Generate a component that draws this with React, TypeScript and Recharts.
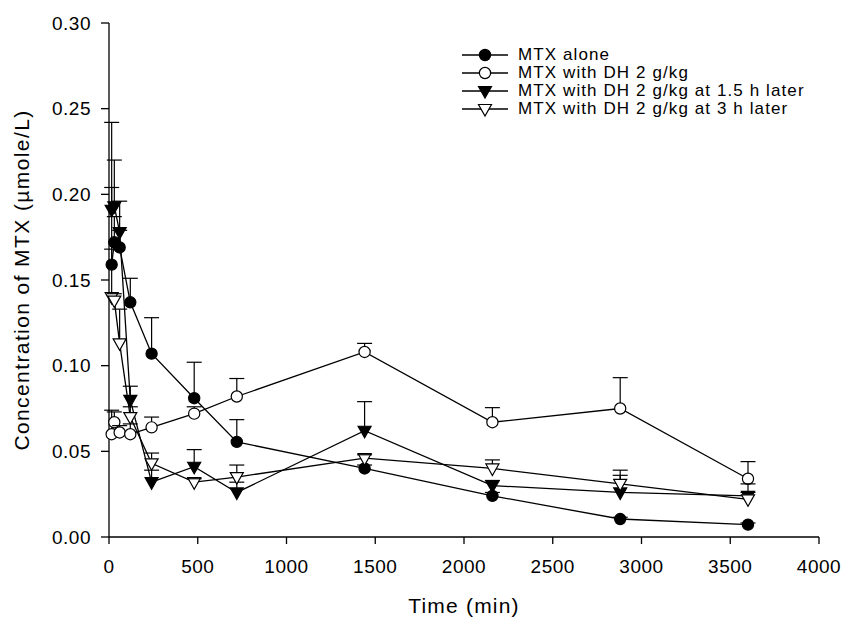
import { LineChart, Line, XAxis, YAxis, ErrorBar, Legend, Label } from 'recharts';

// sampling times (min)
const TIMES = [15, 30, 60, 120, 240, 480, 720, 1440, 2160, 2880, 3600];

// mean concentration (umole/L) and SD per group
const ALONE = [0.159, 0.172, 0.169, 0.137, 0.107, 0.081, 0.0555, 0.040, 0.024, 0.0105, 0.0072];
const ALONE_SD = [0.009, 0.015, 0.010, 0.014, 0.021, 0.021, 0.013, 0.002, 0.002, 0.001, 0.001];
const WITH_DH = [0.060, 0.067, 0.061, 0.060, 0.064, 0.072, 0.082, 0.108, 0.067, 0.075, 0.034];
const WITH_DH_SD = [0.014, 0.006, 0.004, 0.006, 0.006, 0.004, 0.0105, 0.005, 0.0085, 0.018, 0.010];
const DH_15H = [0.191, 0.193, 0.178, 0.080, 0.032, 0.041, 0.026, 0.062, 0.030, 0.026, 0.024];
const DH_15H_SD = [0.051, 0.027, 0.018, 0.008, 0.007, 0.010, 0.006, 0.017, 0.003, 0.010, 0.002];
const DH_3H = [0.140, 0.138, 0.113, 0.070, 0.043, 0.032, 0.035, 0.046, 0.040, 0.031, 0.022];
const DH_3H_SD = [0.064, 0.004, 0.020, 0.006, 0.006, 0.002, 0.007, 0.002, 0.005, 0.008, 0.009];

const X_TICKS = [0, 500, 1000, 1500, 2000, 2500, 3000, 3500, 4000];
const Y_TICKS = [0, 0.05, 0.1, 0.15, 0.2, 0.25, 0.3];

type Kind = 'circleFilled' | 'circleOpen' | 'triFilled' | 'triOpen';

const SERIES: { key: string; name: string; values: number[]; sd: number[]; kind: Kind }[] = [
  { key: 'alone', name: 'MTX alone', values: ALONE, sd: ALONE_SD, kind: 'circleFilled' },
  { key: 'dh', name: 'MTX with DH 2 g/kg', values: WITH_DH, sd: WITH_DH_SD, kind: 'circleOpen' },
  { key: 'dh15', name: 'MTX with DH 2 g/kg at 1.5 h later', values: DH_15H, sd: DH_15H_SD, kind: 'triFilled' },
  { key: 'dh3', name: 'MTX with DH 2 g/kg at 3 h later', values: DH_3H, sd: DH_3H_SD, kind: 'triOpen' },
];

const rows = TIMES.map((t, i) => {
  const row: Record<string, any> = { t };
  SERIES.forEach(s => {
    row[s.key] = s.values[i];
    row[s.key + 'Err'] = [0, s.sd[i]];
    row[s.key + 'Top'] = s.values[i] + s.sd[i];
  });
  return row;
});

const FONT = '"Liberation Sans", Arial, sans-serif';

function Marker({ cx, cy, kind }: { cx: number; cy: number; kind: Kind }) {
  if (kind === 'circleFilled' || kind === 'circleOpen') {
    return (
      <circle cx={cx} cy={cy} r={5.6} fill={kind === 'circleFilled' ? '#000' : '#fff'} stroke="#000" strokeWidth={1.2} />
    );
  }
  const pts = `${cx - 6.5},${cy - 4.5} ${cx + 6.5},${cy - 4.5} ${cx},${cy + 7}`;
  return <polygon points={pts} fill={kind === 'triFilled' ? '#000' : '#fff'} stroke="#000" strokeWidth={1.2} />;
}

const markerDot = (kind: Kind) => (p: any) => {
  if (p.cx == null || p.cy == null) return <g key={`${kind}-${p.index}`} />;
  return (
    <g key={`${kind}-${p.index}`}>
      <Marker cx={p.cx} cy={p.cy} kind={kind} />
    </g>
  );
};

const capDot = (key: string) => (p: any) => {
  if (p.cx == null || p.cy == null) return <g key={`${key}-cap-${p.index}`} />;
  return <line key={`${key}-cap-${p.index}`} x1={p.cx - 7.5} x2={p.cx + 7.5} y1={p.cy} y2={p.cy} stroke="#000" strokeWidth={1.2} />;
};

function LegendBox() {
  return (
    <div style={{ fontFamily: FONT, fontSize: 17, letterSpacing: 1.1, color: '#000', whiteSpace: 'nowrap' }}>
      {SERIES.map(s => (
        <div key={s.key} style={{ display: 'flex', alignItems: 'center', height: 18, lineHeight: '18px' }}>
          <svg width={46} height={18} style={{ overflow: 'visible' }}>
            <line x1={0} x2={46} y1={9} y2={9} stroke="#000" strokeWidth={1.3} />
            <Marker cx={23} cy={9} kind={s.kind} />
          </svg>
          <span style={{ marginLeft: 10 }}>{s.name}</span>
        </div>
      ))}
    </div>
  );
}

export default function App() {
  const tickStyle = { fill: '#000', fontSize: 19, fontFamily: FONT, letterSpacing: 0.5 };
  return (
    <div style={{ position: 'absolute', left: 0, top: 0, background: '#fff' }}>
      <LineChart width={843} height={621} data={rows} margin={{ top: 23, right: 24, bottom: 0, left: 0 }}>
        <XAxis
          type="number"
          dataKey="t"
          domain={[0, 4000]}
          ticks={X_TICKS}
          height={84}
          tickSize={7}
          tickMargin={16}
          tick={tickStyle}
          axisLine={{ stroke: '#000', strokeWidth: 1.3 }}
          tickLine={{ stroke: '#000', strokeWidth: 1.3 }}
        >
          <Label
            value="Time (min)"
            position="insideBottom"
            offset={8}
            style={{ fill: '#000', fontSize: 21, fontFamily: FONT, letterSpacing: 1.2 }}
          />
        </XAxis>
        <YAxis
          type="number"
          domain={[0, 0.3]}
          ticks={Y_TICKS}
          tickFormatter={(v: number) => v.toFixed(2)}
          width={109}
          tickSize={8}
          tickMargin={10}
          tick={tickStyle}
          axisLine={{ stroke: '#000', strokeWidth: 1.3 }}
          tickLine={{ stroke: '#000', strokeWidth: 1.3 }}
        >
          <Label
            value="Concentration of MTX (µmole/L)"
            angle={-90}
            position="insideLeft"
            offset={22}
            style={{ fill: '#000', fontSize: 21, fontFamily: FONT, letterSpacing: 1.4, textAnchor: 'middle' }}
          />
        </YAxis>
        <Legend
          align="center"
          verticalAlign="middle"
          wrapperStyle={{ left: 462, top: 45.5, width: 'auto', height: 'auto' }}
          content={() => <LegendBox />}
        />
        {SERIES.flatMap(s => [
          <Line
            key={s.key}
            dataKey={s.key}
            name={s.name}
            stroke="#000"
            strokeWidth={1.3}
            dot={markerDot(s.kind)}
            activeDot={false}
            isAnimationActive={false}
          >
            <ErrorBar dataKey={s.key + 'Err'} width={0} stroke="#000" strokeWidth={1.2} direction="y" />
          </Line>,
          <Line
            key={s.key + 'Top'}
            dataKey={s.key + 'Top'}
            stroke="none"
            legendType="none"
            dot={capDot(s.key)}
            activeDot={false}
            isAnimationActive={false}
          />,
        ])}
      </LineChart>
    </div>
  );
}
